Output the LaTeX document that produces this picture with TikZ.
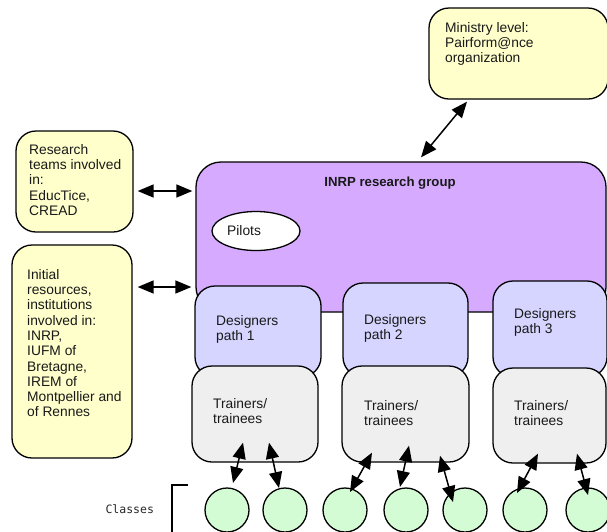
\documentclass[tikz,border=0pt]{standalone}
\usepackage{fontspec}
\setmainfont{Liberation Sans}
\newfontfamily\classfont{DejaVu Sans Mono}
\usepackage{xcolor}
\usepackage{tikz}
\usetikzlibrary{shapes.geometric,arrows.meta,calc}
\definecolor{boxyellow}{HTML}{FFFFCC}
\definecolor{groupviolet}{HTML}{D5AAFF}
\definecolor{pathblue}{HTML}{D5D5FF}
\definecolor{traingrey}{HTML}{EFEFEF}
\definecolor{classgreen}{HTML}{D4FCD4}
\tikzset{
    every node/.style={font=\fontsize{13.8}{15.3}\selectfont, text=black!90},
    roundbox/.style={draw, rectangle, rounded corners=20pt, line width=1.3pt, inner sep=0pt},
    boxtext/.style={anchor=north west, align=left, inner sep=0pt},
    classnode/.style={draw, circle, fill=classgreen, minimum size=44pt, inner sep=0pt, line width=1.3pt},
    link/.style={{Triangle[length=16pt,width=13pt]}-{Triangle[length=16pt,width=13pt]}, line width=1.5pt}
}

\begin{document}
\begin{tikzpicture}[x=1pt, y=-1pt]
        \clip (0,0) rectangle (607,531);
        % outside partners
        \node[roundbox, fill=boxyellow, minimum width=179pt, minimum height=91pt] (minis) at (518.5,53.5) {};
        \node[boxtext] (minis-t) at (445,22) {Ministry level:\\Pairform@nce\\organization};
        \node[roundbox, fill=boxyellow, minimum width=117pt, minimum height=101pt] (res) at (74.5,181.5) {};
        \node[boxtext] (res-t) at (29,144) {Research\\teams involved\\in:\\EducTice,\\CREAD};
        \node[roundbox, fill=boxyellow, minimum width=120pt, minimum height=213pt] (init) at (72,351.5) {};
        \node[boxtext] (init-t) at (27,269) {Initial\\resources,\\institutions\\involved in:\\INRP,\\IUFM of\\Bretagne,\\IREM of\\Montpellier and\\of Rennes};

        % research group
        \node[roundbox, fill=groupviolet, rounded corners=25pt, minimum width=410pt, minimum height=150pt] (inrp) at (401,237) {};
        \node[font=\bfseries\fontsize{13.2}{15}\selectfont, anchor=base] (inrp-t) at (390,186) {INRP research group};
        \node[draw, ellipse, fill=white, line width=1.3pt, minimum width=88pt, minimum height=39pt, inner sep=0pt] (pilots) at (256,231) {};
        \node[boxtext] (pilots-t) at (227,225) {Pilots};

        % paths
        \node[roundbox, fill=pathblue, minimum width=126pt, minimum height=91pt] (des1) at (258,331.5) {};
        \node[roundbox, fill=pathblue, minimum width=125pt, minimum height=94pt] (des2) at (405.5,330) {};
        \node[roundbox, fill=pathblue, minimum width=114pt, minimum height=96pt] (des3) at (550,329) {};
        \node[boxtext] (des1-t) at (216,315) {Designers\\path 1};
        \node[boxtext] (des2-t) at (364,314) {Designers\\path 2};
        \node[boxtext] (des3-t) at (514,308) {Designers\\path 3};

        \node[roundbox, fill=traingrey, minimum width=126pt, minimum height=96pt] (tr1) at (255,414) {};
        \node[roundbox, fill=traingrey, minimum width=127pt, minimum height=96pt] (tr2) at (405.5,414) {};
        \node[roundbox, fill=traingrey, minimum width=113pt, minimum height=95pt] (tr3) at (549.5,415.5) {};
        \node[boxtext] (tr1-t) at (213,398) {Trainers/\\trainees};
        \node[boxtext] (tr2-t) at (364,400) {Trainers/\\trainees};
        \node[boxtext] (tr3-t) at (514,400) {Trainers/\\trainees};

        % classes
        \foreach \x [count=\i] in {227,285,345,406,465,525,588}
            \node[classnode] (c\i) at (\x,510) {};
        \node[font=\classfont\fontsize{11.5}{13}\selectfont, text=black!85, anchor=base west] (classes) at (102,513) {Classes};
        \draw[line width=1.3pt] (188,485) -| (172,540);

        % links
        \draw[link] ($(minis.south)+(-51.5,2)$) -- ($(inrp.north)+(20,-4)$);
        \draw[link] ($(res.east)+(4,9.5)$) -- ($(inrp.west)+(-3,-46)$);
        \draw[link] ($(init.east)+(5,-64.5)$) -- ($(inrp.west)+(-4,50)$);
        \draw[link] ($(tr1.south)+(-12,-20)$) -- ($(c1)+(6,-27)$);
        \draw[link] ($(tr1.south)+(14,-20)$) -- ($(c2)+(-6,-22)$);
        \draw[link] ($(tr2.south)+(-33.5,-10)$) -- ($(c3)+(5,-18)$);
        \draw[link] ($(tr2.south)+(3.5,-17)$) -- ($(c4)+(-6,-23)$);
        \draw[link] ($(tr2.south)+(34.5,-7)$) -- ($(c5)+(-12,-8)$);
        \draw[link] ($(tr3.south)+(-11.5,-10)$) -- ($(c6)+(-8,-17)$);
        \draw[link] ($(tr3.south)+(27.5,-10)$) -- ($(c7)+(0,-15)$);
    \end{tikzpicture}
\end{document}
